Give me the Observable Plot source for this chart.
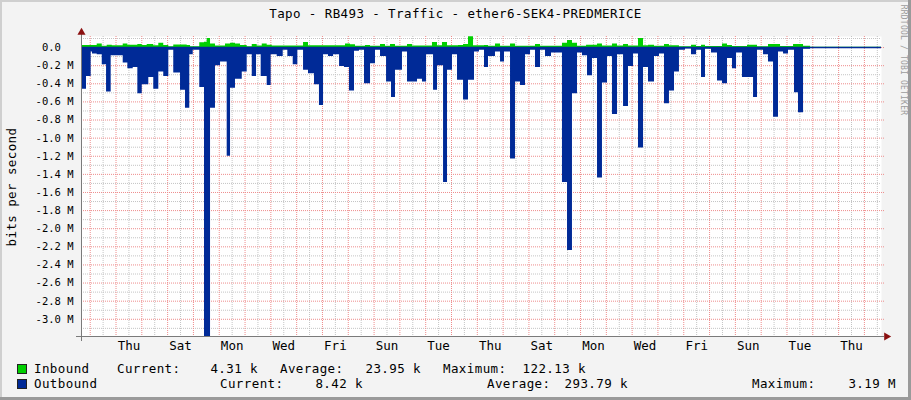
<!DOCTYPE html>
<html><head><meta charset="utf-8">
<script src="https://cdn.jsdelivr.net/npm/d3@7"></script>
<script src="https://cdn.jsdelivr.net/npm/@observablehq/plot@0.6"></script>
<style>
html,body{margin:0;padding:0;background:#fff;}
#wrap{position:relative;width:911px;height:400px;background:#f3f3f3;overflow:hidden;font-family:"DejaVu Sans Mono",monospace;color:#000;}
#wrap svg{position:absolute;left:0;top:0;}
.t{position:absolute;white-space:pre;font-size:12.5px;letter-spacing:0.4px;line-height:12.5px;}
.sq{position:absolute;width:8px;height:8px;border:1px solid #222;}
.b{position:absolute;pointer-events:none;}
</style></head><body><div id="wrap"></div>
<script>
const title = "Tapo - RB493 - Traffic - ether6-SEK4-PREDMERICE";
const yLabel = "bits per second";
const watermark = "RRDTOOL / TOBI OETIKER";
const seriesNames = ["Inbound", "Outbound"];
const seriesColors = ["#00CF00", "#002A97"];
const statNames = ["Current:", "Average:", "Maximum:"];
const inboundStats = ["4.31 k", "23.95 k", "122.13 k"];
const outboundStats = ["8.42 k", "293.79 k", "3.19 M"];
const dayLabels = ["Thu","Sat","Mon","Wed","Fri","Sun","Tue","Thu","Sat","Mon","Wed","Fri","Sun","Tue","Thu"];
const firstMidnight = 8.1;   // hours from the start of the graph to the first (Wednesday) midnight
const spanHours = 744;       // 31 days
const yTicks = [0,-0.2e6,-0.4e6,-0.6e6,-0.8e6,-1.0e6,-1.2e6,-1.4e6,-1.6e6,-1.8e6,-2.0e6,-2.2e6,-2.4e6,-2.6e6,-2.8e6,-3.0e6];
const yMinorTicks = [0.1e6,-0.1e6,-0.3e6,-0.5e6,-0.7e6,-0.9e6,-1.1e6,-1.3e6,-1.5e6,-1.7e6,-1.9e6,-2.1e6,-2.3e6,-2.5e6,-2.7e6,-2.9e6,-3.1e6];
const yDomain = [-3.19e6, 0.1221e6];

// Outbound (Mbit/s), step series: value holds from the hour given until the next one
const outHours = [0,4.65,9.0,10.2,14.6,19.3,23.3,27.6,38.8,43.1,48.1,52.4,56.5,62.6,67.2,71.9,76.5,81.2,85.8,92.1,96.7,100.7,103.9,110.0,114.4,120.0,124.6,129.3,135.5,138.6,143.2,149.5,154.1,158.8,162.8,167.1,172.7,176.4,182.0,187.6,191.9,196.9,201.2,206.5,211.1,216.7,221.3,225.1,229.7,234.4,240.0,244.6,249.2,253.9,258.5,263.2,268.8,273.4,278.1,283.7,288.3,292.0,298.5,303.2,312.5,317.1,320.9,327.4,331.1,336.7,340.4,345.0,349.7,355.3,359.9,365.5,370.1,374.8,378.5,385.0,389.7,393.4,399.0,403.6,408.3,412.9,417.6,422.2,426.9,431.5,437.1,447.3,452.0,456.6,461.3,465.9,470.6,475.2,479.9,484.5,489.2,493.8,498.5,504.1,508.7,513.4,518.0,522.7,527.3,532.9,537.5,542.2,546.8,551.5,556.1,561.7,567.3,572.0,576.6,580.3,585.9,591.5,596.1,600.8,605.4,609.2,614.7,625.0,628.7,634.3,638.9,643.6,648.2,652.9,657.5,663.1,666.8,671.5,678.0,744];
const outValues = [0.46,0.32,0.05,0.07,0.08,0.19,0.49,0.09,0.17,0.235,0.22,0.51,0.41,0.33,0.46,0.27,0.32,0.03,0.28,0.47,0.67,0.08,0.03,0.44,3.19,0.67,0.2,0.16,1.2,0.45,0.35,0.27,0.08,0.32,0.08,0.32,0.42,0.08,0.1,0.03,0.1,0.19,0.03,0.25,0.29,0.41,0.64,0.08,0.1,0.08,0.21,0.22,0.48,0.04,0.03,0.4,0.18,0.03,0.1,0.38,0.55,0.25,0.05,0.38,0.35,0.38,0.08,0.47,0.2,1.49,0.25,0.08,0.36,0.58,0.36,0.05,0.03,0.22,0.1,0.05,0.16,0.05,1.23,0.38,0.42,0.08,0.03,0.22,0.03,0.1,0.06,1.49,2.24,0.51,0.06,0.09,0.31,0.12,1.44,0.39,0.1,0.74,0.08,0.65,0.21,0.07,1.11,0.22,0.38,0.1,0.07,0.62,0.48,0.27,0.03,0.015,0.08,0.03,0.33,0.02,0.06,0.37,0.4,0.12,0.235,0.06,0.33,0.55,0.03,0.08,0.16,0.77,0.05,0.07,0.03,0.5,0.72,0.02,0.0085,0.0085];

// Inbound (Mbit/s), step series
const inHours = [0,14.6,19.3,23.9,28.6,38.8,43.1,52.4,56.5,61.1,67.2,71.9,76.5,81.2,85.8,98.3,101.4,110.0,114.4,116.9,120.0,124.6,133.9,138.6,143.2,147.9,154.1,158.8,163.4,168.1,172.7,177.4,206.5,211.1,245.5,250.2,254.8,264.1,268.8,278.1,282.7,287.4,292.0,303.2,307.8,326.4,331.1,335.7,340.4,350.6,355.3,359.9,364.6,374.8,378.5,385.0,389.7,399.0,403.6,422.2,426.9,447.3,452.0,456.6,461.3,469.7,479.9,484.5,493.8,498.5,504.1,508.7,518.0,522.7,527.3,532.9,542.2,546.8,556.1,567.3,572.0,576.6,580.3,596.1,600.8,605.4,619.4,628.7,638.9,650.1,662.2,671.5,678.0,744];
const inValues = [0.022,0.04,0.015,0.025,0.02,0.04,0.025,0.033,0.022,0.033,0.02,0.048,0.022,0.01,0.029,0.022,0.01,0.052,0.059,0.1,0.04,0.018,0.04,0.048,0.04,0.022,0.01,0.033,0.018,0.04,0.025,0.018,0.055,0.02,0.04,0.03,0.015,0.022,0.015,0.033,0.015,0.033,0.015,0.033,0.018,0.055,0.02,0.055,0.02,0.022,0.033,0.12,0.02,0.022,0.015,0.04,0.015,0.04,0.015,0.033,0.015,0.048,0.077,0.048,0.015,0.025,0.04,0.018,0.04,0.018,0.033,0.018,0.1,0.02,0.025,0.015,0.033,0.02,0.01,0.025,0.012,0.025,0.012,0.04,0.022,0.012,0.025,0.01,0.033,0.012,0.033,0.015,0.0043,0.0043];

const outData = outHours.map((h, i) => ({h, v: -outValues[i] * 1e6}));
const inData = inHours.map((h, i) => ({h, v: inValues[i] * 1e6}));

const midnights = d3.range(firstMidnight, spanHours, 24);
const noons = d3.range(firstMidnight + 12, spanHours, 24);
const labelHours = dayLabels.map((d, i) => firstMidnight + 36 + 48 * i);

const fmtY = v => Math.abs(v) < 1 ? "0.0\u00a0\u00a0" : (v / 1e6).toFixed(1) + "\u00a0M";

const chart = Plot.plot({
  width: 911, height: 400,
  marginLeft: 81, marginRight: 30, marginTop: 36, marginBottom: 64,
  style: {background: "transparent", fontFamily: "DejaVu Sans Mono", color: "#000", overflow: "visible"},
  x: {domain: [0, spanHours], axis: null},
  y: {domain: yDomain, axis: null},
  marks: [
    Plot.frame({fill: "white", stroke: null}),
    Plot.ruleX(noons, {stroke: "#c4c4c4", strokeDasharray: "1,1"}),
    Plot.ruleY(yMinorTicks, {stroke: "#c4c4c4", strokeDasharray: "1,1"}),
    Plot.ruleX(midnights, {stroke: "#ee8c8c", strokeDasharray: "1,1"}),
    Plot.ruleY(yTicks, {stroke: "#ee8c8c", strokeDasharray: "1,1", insetRight: -3}),
    Plot.areaY(outData, {x: "h", y: "v", curve: "step-after", fill: seriesColors[1]}),
    Plot.areaY(inData, {x: "h", y: "v", curve: "step-after", fill: seriesColors[0]}),
    Plot.ruleY([0], {stroke: seriesColors[1], strokeWidth: 1.6}),
    Plot.axisY(yTicks, {tickSize: 0, tickPadding: 8, tickFormat: fmtY, fontSize: 10.5, style: {letterSpacing: "1.4px"}}),
    Plot.axisX(labelHours, {tickSize: 0, tickPadding: 5, tickFormat: d => dayLabels[labelHours.indexOf(d)], fontSize: 12.5, style: {letterSpacing: "0.4px"}}),
    Plot.ruleY([yDomain[0]], {stroke: "#7a7a7a", insetLeft: -5, insetRight: -3}),
    Plot.ruleX([0], {stroke: "#7a7a7a", insetTop: -3, insetBottom: -5}),
    Plot.dot([{x: spanHours, y: yDomain[0]}], {x: "x", y: "y", symbol: "triangle", r: 3, rotate: 90, fill: "#8b1010", stroke: null, dx: 5}),
    Plot.dot([{x: 0, y: yDomain[1]}], {x: "x", y: "y", symbol: "triangle", r: 3, fill: "#8b1010", stroke: null, dy: -4})
  ]
});

const wrap = document.getElementById("wrap");
wrap.appendChild(chart);

function addText(txt, opts) {
  const d = document.createElement("div");
  d.className = "t";
  d.textContent = txt;
  Object.assign(d.style, opts);
  wrap.appendChild(d);
  return d;
}
// title
addText(title, {left: "0px", width: "911px", textAlign: "center", top: "8px"});
// y label
addText(yLabel, {left: "12px", top: "187px", transform: "translate(-50%,-50%) rotate(-90deg)"});
// watermark
addText(watermark, {left: "903px", top: "60px", fontSize: "8px", lineHeight: "8px", letterSpacing: "0.2px", color: "#9c9c9c", transform: "translate(-50%,-50%) rotate(90deg)"});

// legend
const rows = [
  {name: seriesNames[0], color: seriesColors[0], stats: inboundStats, top: 363, labels: [117, 280, 443], ends: [258, 421, 586]},
  {name: seriesNames[1], color: seriesColors[1], stats: outboundStats, top: 378, labels: [220, 487, 752], ends: [363, 628, 896]}
];
rows.forEach(r => {
  const sq = document.createElement("div");
  sq.className = "sq";
  sq.style.left = "17px"; sq.style.top = (r.top + 1) + "px"; sq.style.background = r.color;
  wrap.appendChild(sq);
  addText(r.name, {left: "34px", top: r.top + "px"});
  statNames.forEach((s, i) => {
    addText(s, {left: r.labels[i] + "px", top: r.top + "px"});
    addText(r.stats[i], {right: (911 - r.ends[i]) + "px", top: r.top + "px"});
  });
});

// 3D border
[["0px","0px","911px","2px","#cfcfcf"],["0px","0px","2px","400px","#cfcfcf"],["0px","397px","911px","3px","#9a9a9a"],["908px","0px","3px","400px","#9a9a9a"]].forEach(([l,t,w,h,c]) => {
  const b = document.createElement("div");
  b.className = "b";
  Object.assign(b.style, {left: l, top: t, width: w, height: h, background: c});
  wrap.appendChild(b);
});
</script></body></html>
